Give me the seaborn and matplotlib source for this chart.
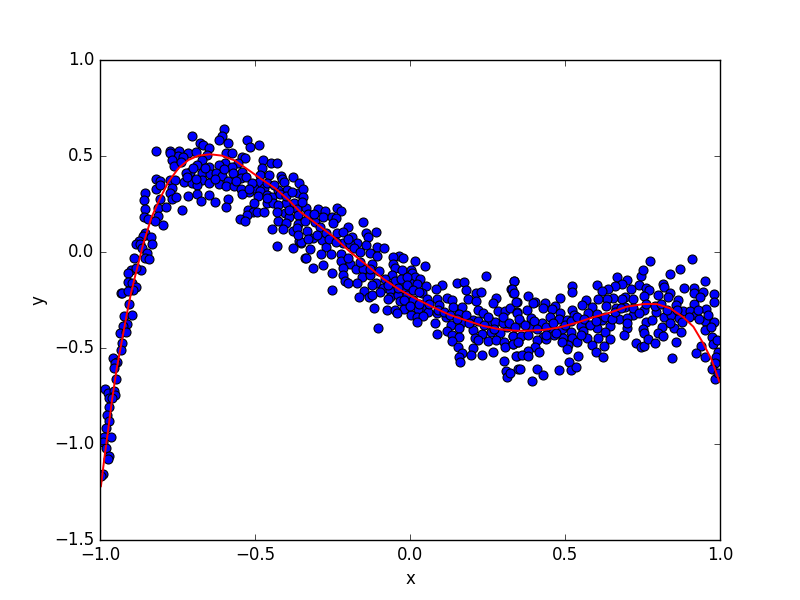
import matplotlib
matplotlib.use('Agg')
import matplotlib.pyplot as plt
import pandas as pd
import seaborn as sns

# samples as (x, y), split by region of the curve
rise_pts = [
    (-.931,-.215),(-.908,-.273),(-.924,-.333),(-.898,-.330),(-.912,-.375),(-.925,-.386),(-.934,-.420),
    (-.917,-.418),(-.928,-.472),(-.932,-.510),(-.957,-.554),(-.945,-.571),(-.951,-.577),(-.955,-.603),
    (-.949,-.662),(-.983,-.714),(-.975,-.736),(-.955,-.724),(-.951,-.743),(-.970,-.762),(-.962,-.762),
    (-.970,-.809),(-.976,-.851),(-.971,-.882),(-.981,-.918),(-.987,-.962),(-.965,-.964),(-.989,-.988),
    (-.982,-1.023),(-.971,-1.064),(-.975,-1.080),(-.990,-1.158),(-.997,-1.167),
]
hump_pts = [
    (-.599,.639),(-.702,.604),(-.605,.604),(-.615,.583),(-.525,.583),(-.586,.568),(-.676,.569),(-.667,.557),
    (-.647,.543),(-.516,.549),(-.488,.555),(-.818,.524),(-.775,.528),(-.744,.526),(-.717,.517),(-.689,.519),
    (-.747,.50),(-.731,.497),(-.775,.517),(-.656,.505),(-.593,.514),(-.574,.517),(-.543,.497),(-.531,.488),
    (-.769,.479),(-.670,.479),(-.597,.462),(-.615,.451),(-.554,.465),(-.473,.477),(-.449,.462),(-.430,.462),
    (-.762,.448),(-.687,.451),(-.650,.444),(-.575,.441),(-.478,.436),(-.711,.418),(-.724,.413),(-.670,.410),
    (-.645,.406),(-.627,.413),(-.605,.396),(-.541,.418),(-.564,.392),(-.545,.384),(-.484,.401),(-.455,.401),
    (-.417,.398),(-.414,.379),(-.376,.389),(-.818,.382),(-.805,.370),(-.773,.373),(-.758,.375),(-.728,.363),
    (-.702,.358),(-.670,.375),(-.588,.370),(-.617,.354),(-.595,.345),(-.487,.365),(-.408,.365),(-.358,.358),
    (-.819,.330),(-.805,.347),(-.767,.335),(-.688,.347),(-.567,.345),(-.518,.311),(-.546,.328),(-.502,.331),
    (-.470,.331),(-.484,.318),(-.398,.323),(-.425,.323),(-.362,.306),(-.344,.326),(-.856,.306),(-.775,.309),
    (-.715,.290),(-.686,.300),(-.650,.299),(-.541,.302),(-.491,.292),(-.462,.297),(-.444,.288),(-.858,.269),
    (-.805,.278),(-.769,.274),(-.756,.285),(-.673,.266),(-.628,.260),(-.586,.276),(-.504,.253),(-.462,.253),
    (-.441,.257),(-.401,.257),(-.373,.253),(-.344,.288),(-.855,.222),(-.812,.229),(-.786,.233),(-.737,.217),
    (-.593,.236),(-.425,.243),(-.365,.222),(-.521,.219),(-.505,.210),(-.492,.210),(-.471,.208),(-.857,.184),
    (-.844,.174),(-.812,.189),(-.526,.193),(-.403,.201),(-.390,.184),(-.360,.193),(-.550,.170),(-.532,.160),
    (-.822,.161),(-.426,.163),(-.796,.139),(-.362,.146),(-.401,.153),(-.444,.118),(-.411,.118),(-.379,.109),
    (-.365,.123),(-.855,.097),(-.860,.083),(-.836,.076),(-.873,.059),(-.885,.040),(-.871,.042),(-.831,.043),
    (-.358,.059),(-.351,.049),(-.428,.030),(-.376,.019),(-.865,.019),(-.849,-.007),(-.891,-.033),(-.855,-.031),
    (-.843,-.038),(-.869,-.092),(-.900,-.094),(-.909,-.111),(-.885,-.085),(-.909,-.158),(-.898,-.160),
    (-.885,-.184),(-.892,-.198),(-.930,-.215),(-.909,-.203),(-.339,-.033),
]
fall_pts = [
    (-.337,.228),(-.296,.222),(-.274,.214),(-.237,.228),(-.224,.214),(-.323,.188),(-.280,.184),(-.253,.184),
    (-.240,.175),(-.307,.158),(-.250,.149),(-.151,.155),(-.201,.129),(-.290,.129),(-.331,.110),(-.237,.101),
    (-.215,.103),(-.143,.097),(-.111,.103),(-.135,.080),(-.188,.080),(-.312,.071),(-.284,.063),(-.352,.050),
    (-.217,.049),(-.170,.045),(-.194,.040),(-.143,.035),(-.272,.028),(-.106,.024),(-.083,.019),(-.321,.014),
    (-.286,-.010),(-.256,-.010),(-.224,-.010),(-.129,-.007),(-.106,-.021),(-.035,-.019),(-.054,-.028),
    (-.022,-.033),(.017,-.048),(-.336,-.033),(-.221,-.045),(-.194,-.062),(-.121,-.062),(-.056,-.062),
    (.049,-.074),(-.280,-.069),(-.312,-.085),(-.215,-.085),(-.175,-.090),(-.151,-.088),(-.049,-.085),
    (-.027,-.095),(.004,-.094),(-.251,-.111),(-.215,-.120),(-.156,-.132),(-.129,-.121),(-.059,-.121),
    (.006,-.107),(.016,-.128),(.033,-.139),(.246,-.127),(-.210,-.149),(-.199,-.163),(-.172,-.163),(-.110,-.163),
    (-.124,-.172),(-.024,-.167),(.000,-.163),(.021,-.167),(.051,-.177),(.104,-.173),(.153,-.163),(.175,-.158),
    (.336,-.153),(-.086,-.187),(-.251,-.199),(-.147,-.203),(-.097,-.206),(-.065,-.198),(-.022,-.198),
    (.040,-.212),(.084,-.194),(.182,-.198),(.213,-.215),(.230,-.210),(.326,-.194),(.333,-.212),(-.164,-.236),
    (-.131,-.232),(-.122,-.226),(-.063,-.232),(-.038,-.224),(-.011,-.224),(.054,-.243),(.086,-.243),(.120,-.241),
    (.134,-.250),(.186,-.246),(.213,-.253),(.276,-.241),(-.070,-.246),(-.032,-.257),(.011,-.250),(.269,-.267),
    (.344,-.259),(.046,-.285),(.094,-.276),(.140,-.288),(.169,-.285),(-.115,-.293),(-.075,-.304),(-.049,-.304),
    (-.018,-.297),(.027,-.298),(.059,-.311),(.220,-.302),(.285,-.305),(.305,-.305),(.322,-.293),(.344,-.311),
    (-.043,-.319),(.002,-.326),(.021,-.337),(.043,-.333),(.088,-.319),(.116,-.340),(.159,-.323),(.236,-.319),
    (.202,-.354),(.021,-.364),(.080,-.371),(.131,-.382),(.163,-.371),(.258,-.357),(.274,-.366),(-.102,-.397),
    (.157,-.396),(.120,-.410),(.202,-.406),(.260,-.415),(.312,-.389),(.088,-.429),(.137,-.432),(.158,-.443),
    (.233,-.429),(.210,-.450),(.290,-.423),(.333,-.437),(.137,-.465),(.220,-.458),(.250,-.462),(.279,-.458),
    (.303,-.470),(.333,-.479),(.348,-.467),(.156,-.496),(.306,-.496),(.204,-.502),(.344,-.541),(.169,-.528),
    (.196,-.538),(.233,-.538),(.269,-.522),(.158,-.545),(.162,-.575),(.304,-.569),(.349,-.611),(.310,-.620),
    (.312,-.649),
]
tail_pts = [
    (.337,-.153),(.328,-.194),(.336,-.215),(.524,-.177),(.524,-.208),(.382,-.229),(.341,-.259),(.403,-.262),
    (.396,-.267),(.435,-.264),(.468,-.279),(.484,-.241),(.567,-.250),(.556,-.276),(.602,-.174),(.669,-.130),
    (.701,-.146),(.744,-.125),(.753,-.094),(.775,-.049),(.840,-.115),(.872,-.090),(.911,-.038),(.953,-.153),
    (.815,-.167),(.740,-.174),(.684,-.168),(.661,-.179),(.640,-.194),(.618,-.205),(.712,-.194),(.761,-.189),
    (.772,-.198),(.819,-.181),(.801,-.224),(.755,-.229),(.885,-.189),(.915,-.189),(.915,-.215),(.944,-.207),
    (.982,-.221),(.839,-.215),(.833,-.236),(.863,-.250),(.857,-.276),(.936,-.233),(.917,-.273),(.981,-.262),
    (.694,-.236),(.718,-.245),(.683,-.247),(.654,-.241),(.634,-.247),(.608,-.247),(.631,-.281),(.755,-.302),
    (.694,-.285),(.664,-.293),(.586,-.285),(.430,-.293),(.457,-.299),(.379,-.302),(.344,-.319),(.521,-.302),
    (.530,-.328),(.484,-.319),(.575,-.319),(.602,-.323),(.718,-.328),(.792,-.313),(.880,-.306),(.903,-.307),
    (.954,-.299),(.923,-.328),(.389,-.346),(.355,-.363),(.482,-.351),(.505,-.354),(.452,-.337),(.618,-.354),
    (.675,-.347),(.701,-.342),(.820,-.340),(.842,-.328),(.869,-.346),(.760,-.363),(.780,-.354),(.952,-.358),
    (.981,-.366),(.933,-.351),(.425,-.372),(.392,-.392),(.551,-.384),(.645,-.385),(.701,-.398),(.812,-.392),
    (.853,-.398),(.879,-.363),(.452,-.406),(.489,-.403),(.518,-.415),(.559,-.411),(.604,-.398),(.629,-.415),
    (.753,-.401),(.801,-.420),(.875,-.418),(.951,-.406),(.331,-.437),(.357,-.437),(.428,-.444),(.465,-.432),
    (.495,-.450),(.521,-.450),(.572,-.448),(.607,-.448),(.645,-.453),(.691,-.432),(.755,-.424),(.817,-.436),
    (.973,-.444),(.331,-.479),(.349,-.467),(.411,-.458),(.439,-.455),(.540,-.469),(.511,-.486),(.489,-.467),
    (.586,-.486),(.625,-.490),(.729,-.476),(.744,-.497),(.756,-.490),(.769,-.455),(.791,-.476),(.859,-.470),
    (.938,-.490),(.976,-.479),(.989,-.458),(.403,-.497),(.382,-.514),(.507,-.507),(.417,-.519),(.599,-.519),
    (.924,-.528),(.995,-.519),(.952,-.549),(.342,-.542),(.360,-.538),(.382,-.542),(.543,-.543),(.624,-.549),
    (.846,-.554),(.987,-.545),(.514,-.575),(.984,-.580),(.355,-.611),(.411,-.611),(.482,-.616),(.520,-.616),
    (.534,-.599),(.430,-.641),(.975,-.611),(.395,-.674),(.984,-.663),(.995,-.632),(.323,-.632),
]
# points in the dense band, partly hidden under the others
band_pts = [
    (-.74,.47),(-.70,.44),(-.66,.44),(-.72,.39),(-.69,.38),(-.65,.36),(-.63,.38),(-.60,.43),(-.57,.41),
    (-.56,.37),(-.53,.39),(-.51,.36),(-.52,.33),(-.46,.36),(-.44,.35),(-.42,.30),(-.40,.29),(-.38,.31),
    (-.46,.28),(-.43,.21),(-.39,.22),(-.35,.26),(-.33,.20),(-.34,.16),(-.31,.20),(-.36,.09),(-.33,.07),
    (-.30,.09),(-.27,.10),(-.26,.07),(-.24,.05),(-.20,.07),(-.18,.02),(-.16,.00),(-.20,-.03),(-.16,-.05),
    (-.13,-.09),(-.10,-.10),(-.08,-.14),(-.05,-.15),(-.03,-.14),(-.01,-.13),(-.07,-.17),(-.04,-.19),
    (-.01,-.17),(.01,-.20),(.03,-.21),(-.02,-.25),(.00,-.28),(.03,-.27),(.06,-.27),(.09,-.30),(.11,-.31),
    (.13,-.33),(.15,-.35),(.18,-.33),(.19,-.37),(.22,-.36),(.24,-.38),(.25,-.34),(.27,-.40),(.30,-.37),
    (.30,-.34),(.32,-.37),(.34,-.39),(.35,-.35),(.37,-.38),(.40,-.36),(.41,-.40),(.44,-.39),(.46,-.37),
    (.47,-.42),(.50,-.38),(.52,-.36),(.54,-.34),(.56,-.35),(.58,-.38),(.60,-.36),(.63,-.34),(.65,-.35),
    (.66,-.31),(.68,-.29),(.72,-.29),(.74,-.32),(.76,-.27),(.79,-.28),(.81,-.27),(.83,-.30),(.86,-.30),
    (.90,-.34),(.93,-.30),(.96,-.33),(.97,-.39),(.38,-.43),(.44,-.43),(.55,-.43),(.70,-.37),(.84,-.37),
]

curve_x = [-.997,-.984,-.973,-.962,-.946,-.930,-.914,-.900,-.887,-.860,-.833,-.806,-.779,-.747,-.715,-.683,
           -.645,-.607,-.564,-.521,-.478,-.435,-.392,-.355,-.301,-.247,-.194,-.140,-.086,-.032,.021,.075,.129,
           .183,.236,.290,.344,.376,.430,.484,.538,.591,.645,.699,.753,.796,.839,.882,.914,.946,.973,.998]
curve_y = [-1.22,-1.049,-.918,-.78,-.606,-.467,-.328,-.215,-.128,.045,.184,.28,.366,.436,.479,.502,
           .509,.502,.476,.427,.378,.332,.271,.21,.146,.08,.002,-.068,-.14,-.198,-.245,-.288,-.328,
           -.357,-.385,-.403,-.41,-.41,-.406,-.392,-.368,-.34,-.316,-.285,-.271,-.271,-.293,-.34,-.389,-.476,-.562,-.675]

points = pd.DataFrame(rise_pts + hump_pts + fall_pts + tail_pts + band_pts, columns=['x', 'y'])
curve = pd.DataFrame({'x': curve_x, 'y': curve_y})

plt.style.use('classic')
fig, ax = plt.subplots(figsize=(8, 6), dpi=100)
sns.scatterplot(data=points, x='x', y='y', s=42, color='blue', edgecolor='black', linewidth=0.8, ax=ax)
sns.lineplot(data=curve, x='x', y='y', color='red', linewidth=1.4, errorbar=None, ax=ax)
ax.set_xlim(-1, 1)
ax.set_ylim(-1.5, 1)
ax.set_xlabel('x')
ax.set_ylabel('y')
fig.savefig('out.png', dpi=100)
